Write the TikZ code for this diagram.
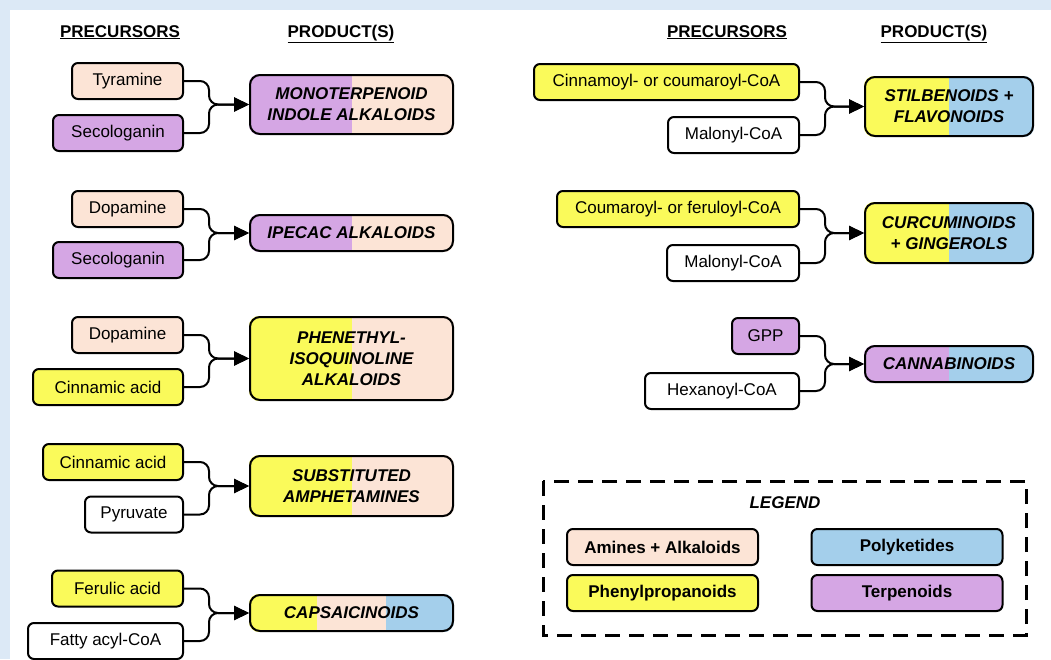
\documentclass[tikz,border=0pt]{standalone}
\usepackage{fontspec}
\setmainfont{Liberation Sans}
\usetikzlibrary{arrows.meta,backgrounds,calc}
\definecolor{peach}{RGB}{252,228,214}
\definecolor{purp}{RGB}{213,166,228}
\definecolor{yel}{RGB}{250,250,90}
\definecolor{blu}{RGB}{164,207,235}
\definecolor{bgblue}{RGB}{220,233,246}
\newcommand\twofill[3]{%
  \begin{pgfonlayer}{background}
  \begin{scope}
    \clip[rounded corners=10pt] (#1.north west) rectangle (#1.south east);
    \fill[#2] (#1.north west) rectangle (#1.south);
    \fill[#3] (#1.north) rectangle (#1.south east);
  \end{scope}
  \end{pgfonlayer}}
\begin{document}
\begin{tikzpicture}[x=1pt,y=-1pt,
  every node/.style={font=\fontsize{17}{21}\selectfont, inner sep=0pt},
  pre/.style={draw, line width=2pt, rounded corners=6pt, minimum height=36pt},
  prod/.style={draw, line width=2pt, rounded corners=10pt, align=center, minimum width=203pt, font=\fontsize{17}{21}\selectfont\bfseries\itshape},
  prodr/.style={prod, minimum width=168pt},
  conn/.style={line width=2pt, rounded corners=9pt, -{Triangle[length=15pt,width=14pt]}},
  hdr/.style={font=\fontsize{17}{21}\selectfont\bfseries, anchor=base},
  leg/.style={draw, line width=2pt, rounded corners=6pt, minimum width=191pt, minimum height=36pt, font=\fontsize{17}{21}\selectfont\bfseries}]
\begin{pgfonlayer}{background}
  \fill[bgblue] (0,0) rectangle (1051,659);
  \fill[white] (10,10) rectangle (1051,659);
\end{pgfonlayer}
\useasboundingbox (0,0) rectangle (1051,659);

% headers
\node[hdr] (h1) at (120,37) {\underline{PRECURSORS}};
\node[hdr] (h2) at (341,37) {\underline{PRODUCT(S)}};
\node[hdr] (h3) at (727,37) {\underline{PRECURSORS}};
\node[hdr] (h4) at (934,37) {\underline{PRODUCT(S)}};

% ---- left column ----
\node[pre, fill=peach, minimum width=111pt] (t1) at (127.5,81) {Tyramine};
\node[pre, fill=purp, minimum width=130pt] (s1) at (118,133) {Secologanin};
\node[prod, minimum height=59pt] (p1) at (351.5,104.5) {MONOTERPENOID\\INDOLE ALKALOIDS};
\twofill{p1}{purp}{peach}
\draw[conn] (t1.east) -| ([xshift=-40pt]p1.west) -- (p1.west);
\draw[conn] (s1.east) -| ([xshift=-40pt]p1.west) -- (p1.west);

\node[pre, fill=peach, minimum width=111pt] (d2) at (127.5,209) {Dopamine};
\node[pre, fill=purp, minimum width=130pt] (s2) at (118,260) {Secologanin};
\node[prod, minimum height=36pt] (p2) at (351.5,233) {IPECAC ALKALOIDS};
\twofill{p2}{purp}{peach}
\draw[conn] (d2.east) -| ([xshift=-40pt]p2.west) -- (p2.west);
\draw[conn] (s2.east) -| ([xshift=-40pt]p2.west) -- (p2.west);

\node[pre, fill=peach, minimum width=111pt] (d3) at (127.5,335) {Dopamine};
\node[pre, fill=yel, minimum width=150pt] (c3) at (108,387) {Cinnamic acid};
\node[prod, minimum height=83pt] (p3) at (351.5,358.5) {PHENETHYL-\\ISOQUINOLINE\\ALKALOIDS};
\twofill{p3}{yel}{peach}
\draw[conn] (d3.east) -| ([xshift=-40pt]p3.west) -- (p3.west);
\draw[conn] (c3.east) -| ([xshift=-40pt]p3.west) -- (p3.west);

\node[pre, fill=yel, minimum width=140pt] (c4) at (113,462) {Cinnamic acid};
\node[pre, fill=white, minimum width=98pt] (py4) at (134,514.5) {Pyruvate};
\node[prod, minimum height=60pt] (p4) at (351.5,486) {SUBSTITUTED\\AMPHETAMINES};
\twofill{p4}{yel}{peach}
\draw[conn] (c4.east) -| ([xshift=-40pt]p4.west) -- (p4.west);
\draw[conn] (py4.east) -| ([xshift=-40pt]p4.west) -- (p4.west);

\node[pre, fill=yel, minimum width=131pt] (f5) at (117.5,588.5) {Ferulic acid};
\node[pre, fill=white, minimum width=155pt] (fa5) at (105.5,641) {Fatty acyl-CoA};
\node[prod, minimum height=36pt] (p5) at (351.5,613) {CAPSAICINOIDS};
\begin{pgfonlayer}{background}
\begin{scope}
  \clip[rounded corners=10pt] (p5.north west) rectangle (p5.south east);
  \fill[yel] (p5.north west) rectangle ($(p5.south west)!1/3!(p5.south east)$);
  \fill[peach] ($(p5.north west)!1/3!(p5.north east)$) rectangle ($(p5.south west)!2/3!(p5.south east)$);
  \fill[blu] ($(p5.north west)!2/3!(p5.north east)$) rectangle (p5.south east);
\end{scope}
\end{pgfonlayer}
\draw[conn] (f5.east) -| ([xshift=-40pt]p5.west) -- (p5.west);
\draw[conn] (fa5.east) -| ([xshift=-40pt]p5.west) -- (p5.west);

% ---- right column ----
\node[pre, fill=yel, minimum width=265pt] (r1) at (666.5,82) {Cinnamoyl- or coumaroyl-CoA};
\node[pre, fill=white, minimum width=131pt] (m1) at (733.5,135) {Malonyl-CoA};
\node[prodr, minimum height=59pt] (q1) at (949,106.5) {STILBENOIDS +\\FLAVONOIDS};
\twofill{q1}{yel}{blu}
\draw[conn] (r1.east) -| ([xshift=-39pt]q1.west) -- (q1.west);
\draw[conn] (m1.east) -| ([xshift=-39pt]q1.west) -- (q1.west);

\node[pre, fill=yel, minimum width=242pt] (r2) at (678,209) {Coumaroyl- or feruloyl-CoA};
\node[pre, fill=white, minimum width=132pt] (m2) at (733,263) {Malonyl-CoA};
\node[prodr, minimum height=60pt] (q2) at (949,233) {CURCUMINOIDS\\+ GINGEROLS};
\twofill{q2}{yel}{blu}
\draw[conn] (r2.east) -| ([xshift=-39pt]q2.west) -- (q2.west);
\draw[conn] (m2.east) -| ([xshift=-39pt]q2.west) -- (q2.west);

\node[pre, fill=purp, minimum width=67pt] (g3) at (765.5,336) {GPP};
\node[pre, fill=white, minimum width=154pt] (h3b) at (722,391) {Hexanoyl-CoA};
\node[prodr, minimum height=36pt] (q3) at (949,364) {CANNABINOIDS};
\twofill{q3}{purp}{blu}
\draw[conn] (g3.east) -| ([xshift=-39pt]q3.west) -- (q3.west);
\draw[conn] (h3b.east) -| ([xshift=-39pt]q3.west) -- (q3.west);

% ---- legend ----
\draw[line width=3pt, dash pattern=on 15pt off 9pt] (543,481) rectangle (1026,635);
\node[font=\fontsize{17}{21}\selectfont\bfseries\itshape] (lg) at (785,503) {LEGEND};
\node[leg, fill=peach] (l1) at (662.5,547) {Amines + Alkaloids};
\node[leg, fill=blu] (l2) at (907,547) {Polyketides};
\node[leg, fill=yel] (l3) at (662.5,593) {Phenylpropanoids};
\node[leg, fill=purp] (l4) at (907,593) {Terpenoids};
\end{tikzpicture}
\end{document}
